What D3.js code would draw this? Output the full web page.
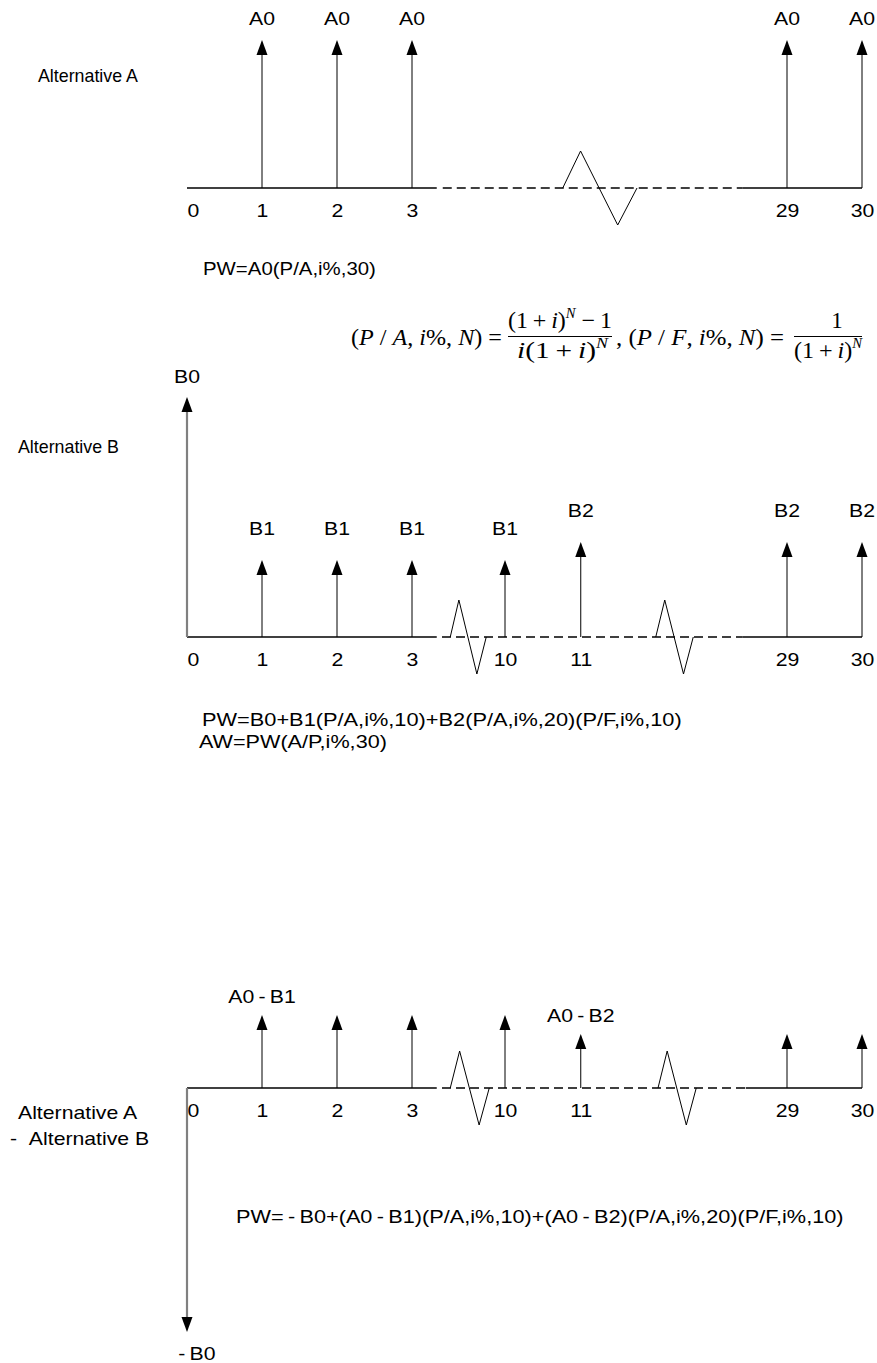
<!DOCTYPE html>
<html>
<head>
<meta charset="utf-8">
<script src="https://cdn.jsdelivr.net/npm/d3@7"></script>
<style>
  body { margin: 0; background: #fff; }
  svg { display: block; }
  text { font-family: "Liberation Sans", Arial, sans-serif; font-size: 18px; fill: #000; }
  .math text { font-family: "Liberation Serif", "Times New Roman", serif; font-size: 23px; }
</style>
</head>
<body>
<div id="chart"></div>
<script>
'use strict';

// alternative A: uniform A0 every year 1..30
var ticksA = [0, 1, 2, 3, 29, 30];
var periodsA = [1, 2, 3, 29, 30];
var flowsA = [148, 148, 148, 148, 148];
var labelsA = ["A0", "A0", "A0", "A0", "A0"];

// alternative B: B0 up front, B1 for years 1..10, B2 for 11..30
var ticksB = [0, 1, 2, 3, 10, 11, 29, 30];
var periodsB = [0, 1, 2, 3, 10, 11, 29, 30];
var flowsB = [240, 77, 77, 77, 77, 95, 95, 95];
var labelsB = ["B0", "B1", "B1", "B1", "B1", "B2", "B2", "B2"];

// difference A - B
var ticksD = [0, 1, 2, 3, 10, 11, 29, 30];
var periodsD = [0, 1, 2, 3, 10, 11, 29, 30];
var flowsD = [-244, 73, 73, 73, 73, 54, 54, 54];
var labelsD = ["-B0", "A0-B1", "", "", "", "A0-B2", "", ""];

var titlesA = ["Alternative A"];
var titlesB = ["Alternative B"];
var titlesD = ["Alternative A", "-  Alternative B"];
var notesA = ["PW=A0(P/A,i%,30)"];
var notesB = ["PW=B0+B1(P/A,i%,10)+B2(P/A,i%,20)(P/F,i%,10)", "AW=PW(A/P,i%,30)"];
var notesD = ["PW=-B0+(A0-B1)(P/A,i%,10)+(A0-B2)(P/A,i%,20)(P/F,i%,10)"];

// broken time axis: periods -> evenly spaced slots
var breakPeriods = [0, 3, 10, 11, 29, 30];
var breakSlots = [0, 3, 4.24, 5.25, 8, 9];

var W = 877, H = 1363;
var SX = 1.18;      // the source text is drawn a bit wide
var HEAD_L = 15, HEAD_W = 5.5;
var TS = "\u2009";  // thin space

var svg = d3.select("#chart").append("svg")
    .attr("width", W)
    .attr("height", H);

var slotX = d3.scaleLinear().domain([0, 9]).range([187, 862]);
var x = d3.scaleLinear()
    .domain(breakPeriods)
    .range(breakSlots.map(function (s) { return slotX(s); }));
var y = d3.scaleLinear().domain([0, 100]).range([0, -100]);

function wideText(g, txt, tx, ty, anchor, width) {
    var t = g.append("text")
        .attr("text-anchor", anchor || "start")
        .text(txt);
    var sx = SX;
    if (width) sx = width / t.node().getComputedTextLength();
    t.attr("transform", "translate(" + tx + "," + ty + ") scale(" + sx + ",1)");
    return t;
}

function spaced(s) {
    // hyphens in the source have air around them
    return s.replace(/-/g, TS + "-" + TS);
}

function drawDiagram(cfg) {
    var g = svg.append("g").attr("transform", "translate(0," + cfg.axisY + ")");

    // axis line: solid / dashed / solid
    cfg.segments.forEach(function (s) {
        g.append("line")
            .attr("x1", slotX(s[0])).attr("x2", slotX(s[1]))
            .attr("y1", 0).attr("y2", 0)
            .attr("stroke", "#000")
            .attr("stroke-width", 1.3)
            .attr("stroke-dasharray", s[2] ? "9,5" : null);
    });

    // break marks
    cfg.breaks.forEach(function (b) {
        var x0 = slotX(b[0]), x1 = slotX(b[1]), w = x1 - x0;
        g.append("path")
            .attr("d", d3.line()([[x0, 0], [x0 + w * 0.24, -37], [x0 + w * 0.74, 37], [x1, 0]]))
            .attr("fill", "none")
            .attr("stroke", "#000")
            .attr("stroke-width", 1);
    });

    // tick labels via d3 axis
    var axis = d3.axisBottom(x).tickValues(cfg.ticks).tickSize(0).tickPadding(16);
    var ag = g.append("g").call(axis);
    ag.select(".domain").remove();
    ag.attr("font-family", null).attr("font-size", null);
    ag.selectAll("text")
        .attr("fill", "#000")
        .attr("transform", "scale(" + SX + ",1)")
        .attr("text-anchor", function (d) { return d === 0 ? "start" : "middle"; });

    // cash-flow arrows
    var data = cfg.periods.map(function (p, i) {
        return { p: p, v: cfg.flows[i], label: cfg.labels[i] };
    });
    var arrows = g.selectAll("g.flow").data(data).enter().append("g").attr("class", "flow");

    arrows.append("line")
        .attr("x1", function (d) { return x(d.p); })
        .attr("x2", function (d) { return x(d.p); })
        .attr("y1", 0)
        .attr("y2", function (d) { return y(d.v) + (d.v > 0 ? HEAD_L : -HEAD_L); })
        .attr("stroke", function (d) { return d.p === 0 ? "#808080" : "#000"; })
        .attr("stroke-width", function (d) { return d.p === 0 ? 2.2 : 1; });

    arrows.append("path")
        .attr("d", function (d) {
            var cx = x(d.p), ty = y(d.v), by = ty + (d.v > 0 ? HEAD_L : -HEAD_L);
            return "M" + cx + "," + ty + "L" + (cx + HEAD_W) + "," + by + "L" + (cx - HEAD_W) + "," + by + "Z";
        })
        .attr("fill", "#000");

    arrows.each(function (d) {
        if (!d.label) return;
        var sel = d3.select(this);
        var lift = d.p === 0 ? 14 : cfg.lift;
        var s = cfg.spaced ? spaced(d.label) : d.label;
        if (d.v > 0) {
            wideText(sel, s, x(d.p), y(d.v) - lift, "middle");
        } else {
            wideText(sel, s, x(d.p) - 13, y(d.v) + 27.5, "start");
        }
    });
    return g;
}

drawDiagram({
    axisY: 188, ticks: ticksA, periods: periodsA, flows: flowsA, labels: labelsA,
    segments: [[0, 3.33, false], [3.41, 7.41, true], [7.41, 9, false]],
    breaks: [[5.01, 6.0]], lift: 15.5
});
drawDiagram({
    axisY: 637, ticks: ticksB, periods: periodsB, flows: flowsB, labels: labelsB,
    segments: [[0, 3.33, false], [3.4, 7.41, true], [7.41, 9, false]],
    breaks: [[3.51, 3.99], [6.25, 6.75]], lift: 25
});
drawDiagram({
    axisY: 1088, ticks: ticksD, periods: periodsD, flows: flowsD, labels: labelsD,
    segments: [[0, 3.33, false], [3.4, 7.45, true], [7.45, 9, false]],
    breaks: [[3.51, 4.03], [6.28, 6.79]], lift: 12, spaced: true
});

// side titles and notes
var txt = svg.append("g");
wideText(txt, titlesA[0], 38, 82, "start", 100);
wideText(txt, titlesB[0], 18, 453, "start", 101);
wideText(txt, titlesD[0], 18, 1119);
wideText(txt, titlesD[1].replace("  ", " \u00a0"), 10, 1145);
wideText(txt, notesA[0], 203, 275, "start", 173);
wideText(txt, notesB[0], 202, 726, "start", 480);
wideText(txt, notesB[1], 199, 748, "start", 188);
wideText(txt, spaced(notesD[0]), 236, 1223, "start", 608);

// interest factor formulas
var m = svg.append("g").attr("class", "math");
function mathText(parts, tx, ty, anchor, width) {
    var t = m.append("text")
        .attr("text-anchor", anchor || "start");
    parts.forEach(function (p) {
        var s = t.append("tspan").text(p[0]);
        if (p[1] === "i") s.attr("font-style", "italic");
        if (p[1] === "sup") s.attr("font-style", "italic").attr("font-size", 14).attr("dy", -10);
        if (p[1] === "unsup") s.attr("dy", 10);
    });
    var sx = width ? width / t.node().getComputedTextLength() : 1;
    t.attr("transform", "translate(" + tx + "," + ty + ") scale(" + sx + ",1)");
    return t;
}
var plus = TS + "+" + TS;
mathText([["(", ""], ["P", "i"], [" / ", ""], ["A", "i"], [", ", ""], ["i", "i"], ["%, ", ""], ["N", "i"], [") =", ""]], 351, 345, "start", 151);
mathText([["(1" + plus, ""], ["i", "i"], [")", ""], ["N", "sup"], [" \u2212" + TS + "1", "unsup"]], 508, 328, "start", 104);
mathText([["i", "i"], ["(1" + plus, ""], ["i", "i"], [")", ""], ["N", "sup"]], 517, 358, "start", 91);
mathText([[", (", ""], ["P", "i"], [" / ", ""], ["F", "i"], [", ", ""], ["i", "i"], ["%, ", ""], ["N", "i"], [") =", ""]], 616, 345, "start", 168);
mathText([["1", ""]], 837, 328, "middle");
mathText([["(1" + plus, ""], ["i", "i"], [")", ""], ["N", "sup"]], 794, 358, "start", 68);
[[508, 612], [794, 862]].forEach(function (l) {
    m.append("line").attr("x1", l[0]).attr("x2", l[1]).attr("y1", 336.5).attr("y2", 336.5)
        .attr("stroke", "#000").attr("stroke-width", 1);
});
</script>
</body>
</html>
